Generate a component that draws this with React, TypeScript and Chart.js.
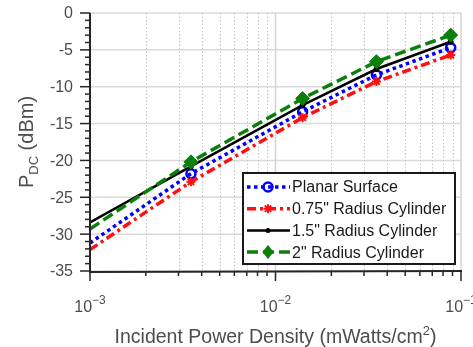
import React, { useEffect, useRef } from "react";
import { Chart, registerables } from "chart.js";

Chart.register(...registerables);

// ---- data ----
const powerDensity = [1e-3, 3.5e-3, 1.4e-2, 3.5e-2, 8.8e-2];
const planarSurface = [-31.2, -21.8, -13.4, -8.4, -4.7];
const cylinder075 = [-32.1, -22.9, -14.2, -9.3, -5.7];
const cylinder15 = [-28.4, -20.8, -12.5, -7.6, -3.9];
const cylinder2 = [-29.3, -20.2, -11.6, -6.6, -3.0];
const seriesNames = [
  "Planar Surface",
  '0.75" Radius Cylinder',
  '1.5" Radius Cylinder',
  '2" Radius Cylinder',
];
const yTicks = [0, -5, -10, -15, -20, -25, -30, -35];
const xMajorTicks = [1e-3, 1e-2, 1e-1];
const xTickExponents = ["\u22123", "\u22122", "\u22121"];

const FONT = "'Liberation Sans', Arial, Helvetica, sans-serif";
const TXT = "#4d4d4d";

type Sty = {
  color: string;
  dash: number[];
  width: number;
  marker: "circle" | "star" | "dot" | "diamond";
  size: number;
};
const styles: Sty[] = [
  { color: "#0000ff", dash: [3.5, 3.5], width: 3.5, marker: "circle", size: 4.5 },
  { color: "#ff1010", dash: [9, 4, 3, 4], width: 3.5, marker: "star", size: 4.5 },
  { color: "#000000", dash: [], width: 2.5, marker: "dot", size: 2.5 },
  { color: "#0a800a", dash: [11, 5], width: 3.5, marker: "diamond", size: 7 },
];
const seriesValues = [planarSurface, cylinder075, cylinder15, cylinder2];

function drawMarker(ctx: CanvasRenderingContext2D, s: Sty, x: number, y: number) {
  ctx.save();
  ctx.setLineDash([]);
  ctx.strokeStyle = s.color;
  ctx.fillStyle = s.color;
  if (s.marker === "circle") {
    ctx.lineWidth = 2.5;
    ctx.beginPath();
    ctx.arc(x, y, s.size, 0, Math.PI * 2);
    ctx.stroke();
  } else if (s.marker === "star") {
    ctx.lineWidth = 2;
    ctx.beginPath();
    for (let k = 0; k < 4; k++) {
      const a = (k * Math.PI) / 4;
      ctx.moveTo(x - Math.cos(a) * s.size, y - Math.sin(a) * s.size);
      ctx.lineTo(x + Math.cos(a) * s.size, y + Math.sin(a) * s.size);
    }
    ctx.stroke();
  } else if (s.marker === "dot") {
    ctx.beginPath();
    ctx.arc(x, y, s.size, 0, Math.PI * 2);
    ctx.fill();
  } else {
    ctx.beginPath();
    ctx.moveTo(x, y - s.size);
    ctx.lineTo(x + s.size * 0.8, y);
    ctx.lineTo(x, y + s.size);
    ctx.lineTo(x - s.size * 0.8, y);
    ctx.closePath();
    ctx.fill();
  }
  ctx.restore();
}

const decorPlugin = {
  id: "decor",
  beforeDatasetsDraw(chart: any) {
    const { ctx, chartArea: a } = chart;
    const xs = chart.scales.x;
    const ys = chart.scales.y;
    ctx.save();
    // horizontal grid
    ctx.strokeStyle = "#dadada";
    ctx.lineWidth = 1.5;
    yTicks.forEach((v) => {
      const py = ys.getPixelForValue(v);
      ctx.beginPath();
      ctx.moveTo(a.left, py);
      ctx.lineTo(a.right, py);
      ctx.stroke();
    });
    // vertical minor (dotted)
    ctx.strokeStyle = "#c4c4c4";
    ctx.lineWidth = 1;
    ctx.setLineDash([1.5, 2]);
    for (let d = 0; d < xMajorTicks.length - 1; d++) {
      for (let m = 2; m <= 9; m++) {
        const px = Math.round(xs.getPixelForValue(xMajorTicks[d] * m)) + 0.5;
        ctx.beginPath();
        ctx.moveTo(px, a.top);
        ctx.lineTo(px, a.bottom);
        ctx.stroke();
      }
    }
    // vertical major
    ctx.setLineDash([]);
    ctx.strokeStyle = "#d3d3d3";
    ctx.lineWidth = 1.5;
    xMajorTicks.forEach((v) => {
      const px = xs.getPixelForValue(v);
      ctx.beginPath();
      ctx.moveTo(px, a.top);
      ctx.lineTo(px, a.bottom);
      ctx.stroke();
    });
    ctx.restore();
  },
  afterDraw(chart: any) {
    const { ctx, chartArea: a } = chart;
    const xs = chart.scales.x;
    const ys = chart.scales.y;
    ctx.save();
    // axes
    ctx.strokeStyle = "#262626";
    ctx.lineWidth = 2;
    ctx.beginPath();
    ctx.moveTo(a.left, a.top);
    ctx.lineTo(a.left, a.bottom + 1);
    ctx.lineTo(a.right + 1, a.bottom);
    ctx.stroke();
    // y ticks
    ctx.lineWidth = 1.5;
    for (let v = ys.min; v <= ys.max; v += 1) {
      const py = ys.getPixelForValue(v);
      const major = v % 5 === 0;
      ctx.beginPath();
      ctx.moveTo(a.left - (major ? 10 : 5), py);
      ctx.lineTo(a.left, py);
      ctx.stroke();
    }
    // x ticks
    for (let d = 0; d < xMajorTicks.length; d++) {
      const px = xs.getPixelForValue(xMajorTicks[d]);
      ctx.beginPath();
      ctx.moveTo(px, a.bottom);
      ctx.lineTo(px, a.bottom + 10);
      ctx.stroke();
      if (d < xMajorTicks.length - 1) {
        for (let m = 2; m <= 9; m++) {
          const mx = xs.getPixelForValue(xMajorTicks[d] * m);
          ctx.beginPath();
          ctx.moveTo(mx, a.bottom);
          ctx.lineTo(mx, a.bottom + 5);
          ctx.stroke();
        }
      }
    }
    // y tick labels
    ctx.fillStyle = TXT;
    ctx.font = `16px ${FONT}`;
    ctx.textAlign = "right";
    ctx.textBaseline = "middle";
    yTicks.forEach((v) => {
      ctx.fillText(String(v), a.left - 17, ys.getPixelForValue(v) + 1);
    });
    // x tick labels
    ctx.textAlign = "left";
    ctx.textBaseline = "alphabetic";
    xMajorTicks.forEach((v, i) => {
      const px = xs.getPixelForValue(v);
      ctx.font = `16px ${FONT}`;
      const w1 = ctx.measureText("10").width;
      ctx.font = `12px ${FONT}`;
      const w2 = ctx.measureText(xTickExponents[i]).width;
      const x0 = px - (w1 + w2) / 2;
      ctx.font = `16px ${FONT}`;
      ctx.fillText("10", x0, a.bottom + 41);
      ctx.font = `12px ${FONT}`;
      ctx.fillText(xTickExponents[i], x0 + w1, a.bottom + 33);
    });
    // x title
    {
      const t1 = "Incident Power Density (mWatts/cm";
      const t2 = "2";
      const t3 = ")";
      ctx.font = `19.5px ${FONT}`;
      const w1 = ctx.measureText(t1).width;
      const w3 = ctx.measureText(t3).width;
      ctx.font = `13px ${FONT}`;
      const w2 = ctx.measureText(t2).width;
      const cx = (a.left + a.right) / 2;
      const x0 = cx - (w1 + w2 + w3) / 2;
      const by = a.bottom + 72;
      ctx.font = `19.5px ${FONT}`;
      ctx.fillText(t1, x0, by);
      ctx.font = `13px ${FONT}`;
      ctx.fillText(t2, x0 + w1, by - 8);
      ctx.font = `19.5px ${FONT}`;
      ctx.fillText(t3, x0 + w1 + w2, by);
    }
    // y title
    {
      ctx.font = `20px ${FONT}`;
      const wP = ctx.measureText("P").width;
      const wR = ctx.measureText(" (dBm)").width;
      ctx.font = `13px ${FONT}`;
      const wD = ctx.measureText("DC").width;
      const total = wP + wD + wR;
      const cy = (a.top + a.bottom) / 2;
      ctx.save();
      ctx.translate(a.left - 57, cy + total / 2);
      ctx.rotate(-Math.PI / 2);
      ctx.font = `20px ${FONT}`;
      ctx.fillText("P", 0, 0);
      ctx.font = `13px ${FONT}`;
      ctx.fillText("DC", wP, 5);
      ctx.font = `20px ${FONT}`;
      ctx.fillText(" (dBm)", wP + wD, 0);
      ctx.restore();
    }
    // legend
    {
      const lx = a.left + 153;
      const ly = a.top + 160;
      const lw = 212;
      const lh = 91;
      ctx.fillStyle = "#ffffff";
      ctx.fillRect(lx, ly, lw, lh);
      ctx.strokeStyle = "#1a1a1a";
      ctx.lineWidth = 2;
      ctx.strokeRect(lx, ly, lw, lh);
      ctx.font = `16px ${FONT}`;
      ctx.textAlign = "left";
      ctx.textBaseline = "middle";
      styles.forEach((s, i) => {
        const ry = ly + 14 + i * 21.7;
        ctx.save();
        ctx.strokeStyle = s.color;
        ctx.lineWidth = s.width;
        ctx.setLineDash(s.dash);
        ctx.beginPath();
        ctx.moveTo(lx + 4, ry);
        ctx.lineTo(lx + 47, ry);
        ctx.stroke();
        ctx.restore();
        drawMarker(ctx, s, lx + 25, ry);
        ctx.fillStyle = "#1a1a1a";
        ctx.fillText(seriesNames[i], lx + 49, ry + 1);
      });
    }
    ctx.restore();
  },
};

export default function App() {
  const ref = useRef<HTMLCanvasElement | null>(null);
  useEffect(() => {
    document.body.style.margin = "0";
    if (!ref.current) return;
    const datasets = seriesValues.map((vals, i) => {
      const s = styles[i];
      const pStyle =
        s.marker === "circle" ? "circle" : s.marker === "star" ? "star" : s.marker === "dot" ? "circle" : "rectRot";
      return {
        label: seriesNames[i],
        data: powerDensity.map((x, k) => ({ x, y: vals[k] })),
        borderColor: s.color,
        borderWidth: s.width,
        borderDash: s.dash,
        borderCapStyle: "butt" as const,
        fill: false,
        tension: 0,
        pointStyle: pStyle,
        pointRadius: powerDensity.map((_, k) => (k === 0 ? 0 : s.size)),
        pointBorderColor: s.color,
        pointBackgroundColor: s.marker === "circle" ? "rgba(0,0,0,0)" : s.color,
        pointBorderWidth: s.marker === "circle" ? 2.5 : s.marker === "star" ? 2 : 1,
        order: 4 - i,
      };
    });
    const chart = new Chart(ref.current, {
      type: "line",
      data: { datasets: datasets as any },
      options: {
        animation: false,
        responsive: false,
        maintainAspectRatio: false,
        layout: { padding: { left: 90, right: 12, top: 13, bottom: 76 } },
        plugins: { legend: { display: false }, tooltip: { enabled: false } },
        scales: {
          x: { type: "logarithmic", min: 1e-3, max: 1e-1, display: false },
          y: { type: "linear", min: -35, max: 0, display: false },
        },
      },
      plugins: [decorPlugin],
    });
    return () => chart.destroy();
  }, []);
  return (
    <div style={{ position: "absolute", left: 0, top: 0, width: 473, height: 347, background: "#fff" }}>
      <canvas ref={ref} width={473} height={347} style={{ width: 473, height: 347, display: "block" }} />
    </div>
  );
}
